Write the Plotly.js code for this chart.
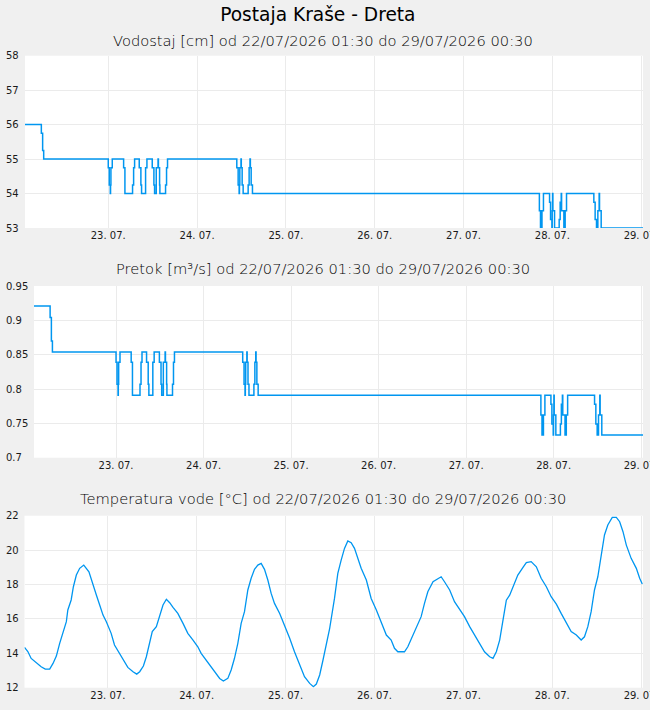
<!DOCTYPE html>
<html>
<head>
<meta charset="utf-8">
<script src="https://cdn.plot.ly/plotly-3.0.1.min.js"></script>
<style>
html,body{margin:0;padding:0;background:#f0f0f0;}
#chart{width:650px;height:710px;}
</style>
</head>
<body>
<div id="chart"></div>
<script>
// ---------------- DATA ----------------
const chartTitle = "Postaja Kraše - Dreta";
const panelTitles = [
  "Vodostaj [cm] od 22/07/2026 01:30 do 29/07/2026 00:30",
  "Pretok [m³/s] od 22/07/2026 01:30 do 29/07/2026 00:30",
  "Temperatura vode [°C] od 22/07/2026 01:30 do 29/07/2026 00:30"
];
const periodStart = "2026-07-22 01:30";
const periodEnd = "2026-07-29 00:30";
const dayTickStart = "2026-07-23";
const dayTickFormat = "%d. %m.";

// step series: hours since 22/07/2026 00:00 where the value changes
const stepHours = [1.5,5.92,6.28,6.55,24.0,24.27,24.55,24.62,24.73,25.09,28.15,28.51,30.58,30.85,31.12,
  32.38,32.83,33.01,34.09,34.45,35.89,36.34,36.52,36.97,37.45,37.55,37.87,37.96,39.49,39.76,40.03,
  58.74,59.10,59.37,59.45,59.56,59.88,59.96,60.19,60.46,61.81,62.08,62.30,62.40,62.62,62.98,
  140.5,140.8,141.2,141.6,143.26,143.53,143.89,143.98,144.07,144.16,144.61,145.86,146.13,146.41,146.50,
  147.12,147.48,147.84,155.22,155.58,155.94,156.30,156.66,156.75,157.2,168.5];
const levelValues = [56,55.75,55.25,55,54.75,54.25,54,54.25,54.75,55,54.75,54,54.25,54.75,55,
  54.75,54.25,54,54.75,55,54.75,54.25,54,54.75,55,54.75,54.25,54,54.25,54.75,55,
  54.75,54.25,54,54.25,54.75,55,54.75,54.25,54,54.25,54.75,55,54.75,54.25,54,
  53.5,53,53.5,54,53.75,53.25,53,53.5,54,53.5,53,53.25,53.75,54,53.5,
  53,53.5,54,53.75,53.25,53,53.5,54,53.5,53,53];
const flowValues = [0.921,0.904,0.870,0.854,0.839,0.807,0.791,0.807,0.839,0.854,0.839,0.791,0.807,0.839,0.854,
  0.839,0.807,0.791,0.839,0.854,0.839,0.807,0.791,0.839,0.854,0.839,0.807,0.791,0.807,0.839,0.854,
  0.839,0.807,0.791,0.807,0.839,0.854,0.839,0.807,0.791,0.807,0.839,0.854,0.839,0.807,0.791,
  0.762,0.733,0.762,0.791,0.778,0.749,0.733,0.762,0.791,0.762,0.733,0.749,0.778,0.791,0.762,
  0.733,0.762,0.791,0.778,0.749,0.733,0.762,0.791,0.762,0.733,0.733];

// water temperature: hours since 22/07/2026 00:00 and °C
const tempHours = [1.5,2.4,3.3,4.7,6.0,7.1,8.3,9.2,10.1,11.0,11.9,12.8,13.2,14.1,14.7,15.5,16.4,17.5,18.9,19.8,
  20.9,21.8,22.7,23.6,24.9,25.8,27.2,28.5,29.4,30.8,31.8,32.6,33.6,34.4,35.3,36.0,37.1,38.0,38.9,39.8,
  40.7,41.6,42.9,44.3,45.6,47.0,48.3,49.2,50.6,51.9,52.8,54.2,55.2,56.4,57.3,58.2,59.1,60.0,60.9,61.8,
  62.7,63.6,64.5,65.4,66.3,67.2,68.1,69.0,70.4,71.7,73.1,74.4,75.8,77.1,78.5,79.5,80.3,81.2,82.1,83.0,
  83.9,85.2,86.1,87.0,87.9,88.8,89.7,90.6,91.5,92.4,93.8,95.1,96.5,97.8,99.2,100.5,101.4,102.3,104.1,105.0,
  106.4,107.7,108.6,109.5,110.4,111.8,113.1,114.0,114.9,116.3,117.6,119.0,120.3,121.7,123.0,124.4,125.7,127.1,128.0,128.9,
  129.8,130.7,131.6,132.5,133.4,134.7,136.1,137.0,138.3,139.7,141.0,142.4,143.7,145.1,146.4,147.8,149.1,150.5,151.8,152.7,
  153.6,154.5,155.4,156.3,157.2,158.1,159.0,160.2,161.3,162.2,163.1,164.0,165.3,166.7,167.6,168.3];
const tempValues = [14.35,14.1,13.7,13.45,13.22,13.08,13.08,13.41,13.84,14.58,15.26,15.84,16.52,17.1,17.87,18.55,18.94,19.13,18.74,18.07,
  17.39,16.81,16.22,15.84,15.16,14.48,14.0,13.51,13.18,12.93,12.79,12.93,13.26,13.80,14.58,15.26,15.55,16.13,16.81,17.14,
  16.94,16.67,16.32,15.74,15.16,14.77,14.38,14.0,13.61,13.22,12.93,12.54,12.39,12.54,13.03,13.71,14.58,15.74,16.42,17.68,
  18.36,18.88,19.13,19.23,18.88,18.26,17.48,16.90,16.32,15.64,14.87,14.09,13.32,12.64,12.25,12.06,12.21,12.74,13.61,14.58,
  15.45,17.19,18.65,19.42,20.10,20.53,20.43,20.10,19.52,18.94,18.26,17.19,16.52,15.84,15.06,14.77,14.29,14.09,14.09,14.38,
  15.06,15.74,16.13,16.90,17.58,18.16,18.36,18.45,18.16,17.68,17.0,16.52,16.13,15.55,15.06,14.58,14.09,13.80,13.71,14.09,
  14.77,15.93,17.09,17.38,17.87,18.55,19.0,19.27,19.33,19.03,18.36,17.87,17.29,16.86,16.32,15.74,15.26,15.06,14.77,14.96,
  15.55,16.42,17.68,18.45,19.81,20.88,21.46,21.90,21.90,21.65,21.07,20.29,19.52,18.94,18.36,18.03];

const levelRange = [53, 58], levelStep = 1;
const flowRange = [0.7, 0.95], flowStep = 0.05;
const tempRange = [12, 22], tempStep = 2;

// ---------------- CHART ----------------
function hoursToTime(h){
  const d = new Date(Date.UTC(2026,6,22,0,0) + Math.round(h*3600000));
  return d.toISOString().slice(0,16).replace('T',' ');
}
const stepTimes = stepHours.map(hoursToTime);
const tempTimes = tempHours.map(hoursToTime);

const W = 650, H = 710;
const LINE = '#0096f0';
const GRID = '#ebebeb';
const TXT = '#1a1a1a';

const traces = [
  {x: stepTimes, y: levelValues, xaxis:'x', yaxis:'y', type:'scatter', mode:'lines',
   line:{color:LINE, width:1.5, shape:'hv'}, hoverinfo:'skip'},
  {x: stepTimes, y: flowValues, xaxis:'x2', yaxis:'y2', type:'scatter', mode:'lines',
   line:{color:LINE, width:1.5, shape:'hv'}, hoverinfo:'skip'},
  {x: tempTimes, y: tempValues, xaxis:'x3', yaxis:'y3', type:'scatter', mode:'lines',
   line:{color:LINE, width:1.3}, hoverinfo:'skip'}
];

function xAx(left, yname){
  return {domain:[left/W, 643/W], anchor:yname, type:'date', range:[periodStart, periodEnd],
    tick0:dayTickStart, dtick:86400000, tickformat:dayTickFormat, showgrid:true, gridcolor:GRID,
    gridwidth:1, zeroline:false, showline:false, ticks:'', ticklabeloverflow:'allow',
    tickfont:{size:10, color:TXT}, fixedrange:true};
}
function yAx(top, bottom, range, step){
  return {domain:[1-bottom/H, 1-top/H], range:range, tick0:range[0], dtick:step,
    anchor:'free', position:2/W, ticklabelposition:'inside', ticklabeloverflow:'allow',
    showgrid:true, gridcolor:GRID, gridwidth:1, zeroline:false, showline:false, ticks:'',
    tickfont:{size:10, color:TXT}, fixedrange:true};
}

const layout = {
  width:W, height:H, margin:{l:0, r:0, t:0, b:0},
  paper_bgcolor:'#f0f0f0', plot_bgcolor:'#ffffff', showlegend:false,
  font:{family:'DejaVu Sans, sans-serif', size:10, color:TXT},
  title:{text:chartTitle, x:0.489, xanchor:'center', xref:'paper', y:1-14/H, yanchor:'middle',
    font:{size:18.6, color:'#000'}},
  xaxis: xAx(25, 'y'),
  yaxis: yAx(55.7, 228, levelRange, levelStep),
  xaxis2: xAx(34, 'y2'),
  yaxis2: yAx(286, 457.7, flowRange, flowStep),
  xaxis3: xAx(24.5, 'y3'),
  yaxis3: yAx(515.7, 687.7, tempRange, tempStep),
  annotations: panelTitles.map((t, i) => ({
    text:t, xref:'paper', yref:'paper', x:0.497, xanchor:'center',
    y:1-[40, 269, 499][i]/H, yanchor:'middle', showarrow:false,
    font:{size:14.7, color:'#000', weight:300}
  }))
};

Plotly.newPlot('chart', traces, layout, {staticPlot:true, displayModeBar:false});
</script>
</body>
</html>
